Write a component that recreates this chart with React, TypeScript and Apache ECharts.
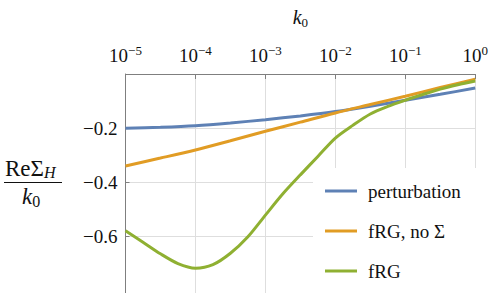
import { useEffect, useRef } from "react";
import * as echarts from "echarts";

const seriesNames = ["perturbation", "fRG, no Σ", "fRG"];
const colors = ["#5E81B5", "#E19C24", "#8FB032"];

const kHalfDecades = [1e-5, 3.162e-5, 1e-4, 3.162e-4, 1e-3, 3.162e-3, 1e-2, 3.162e-2, 0.1, 0.3162, 1];
const perturbation = [-0.201, -0.197, -0.191, -0.181, -0.169, -0.155, -0.139, -0.119, -0.097, -0.075, -0.052];
const frgNoSigma = [-0.34, -0.311, -0.281, -0.247, -0.212, -0.178, -0.144, -0.113, -0.082, -0.05, -0.019];

const kQuarterDecades = [
  1e-5, 1.778e-5, 3.162e-5, 5.623e-5, 1e-4, 1.778e-4, 3.162e-4, 5.623e-4, 1e-3, 1.778e-3, 3.162e-3,
  5.623e-3, 1e-2, 1.778e-2, 3.162e-2, 5.623e-2, 0.1, 0.1778, 0.3162, 0.5623, 1,
];
const frg = [
  -0.58, -0.622, -0.665, -0.701, -0.718, -0.705, -0.663, -0.602, -0.522, -0.443, -0.373,
  -0.305, -0.237, -0.19, -0.148, -0.12, -0.097, -0.076, -0.056, -0.04, -0.026,
];

const yTicks = [-0.6, -0.4, -0.2];

const FONT = "Liberation Serif";

function pairs(xs: number[], ys: number[]) {
  return xs.map((x, i) => [x, ys[i]]);
}

export default function App() {
  const ref = useRef<HTMLDivElement>(null);
  useEffect(() => {
    if (!ref.current) return;
    const chart = echarts.init(ref.current, undefined, { renderer: "svg" });
    const mkSeries = (name: string, data: number[][], color: string) => ({
      name,
      type: "line",
      data,
      smooth: 0.3,
      showSymbol: false,
      symbol: "none",
      lineStyle: { color, width: 3 },
      itemStyle: { color },
      z: 3,
    });
    chart.setOption({
      animation: false,
      backgroundColor: "#fff",
      textStyle: { fontFamily: FONT },
      grid: { left: 125.5, right: 15.5, top: 74, bottom: 0, containLabel: false },
      xAxis: {
        type: "log",
        logBase: 10,
        position: "top",
        min: 1e-5,
        max: 1,
        name: "{i|k}{s|0}",
        nameLocation: "middle",
        nameGap: 46,
        nameTextStyle: {
          fontFamily: FONT,
          rich: {
            i: { fontFamily: FONT, fontSize: 20, fontStyle: "italic", color: "#111", lineHeight: 22 },
            s: { fontFamily: FONT, fontSize: 13, color: "#111", lineHeight: 22, padding: [10, 0, 0, 0] },
          },
        },
        axisLine: { show: true, lineStyle: { color: "#7f7f7f", width: 1 } },
        axisTick: { show: true, inside: true, length: 5, lineStyle: { color: "#7f7f7f" } },
        splitLine: { show: true, lineStyle: { color: "#dedede", width: 1 } },
        minorTick: { show: false },
        axisLabel: {
          margin: 8,
          fontFamily: FONT,
          formatter: (v: number) => {
            const e = Math.round(Math.log10(v));
            const s = e < 0 ? "\u2212" + Math.abs(e) : String(e);
            return "{b|10}{s|" + s + "}";
          },
          rich: {
            b: { fontFamily: FONT, fontSize: 19, color: "#111", lineHeight: 22 },
            s: { fontFamily: FONT, fontSize: 13, color: "#111", lineHeight: 22, padding: [0, 0, 9, 0] },
          },
        },
      },
      yAxis: {
        type: "value",
        min: -0.81,
        max: 0,
        axisLine: { show: true, onZero: false, lineStyle: { color: "#7f7f7f", width: 1 } },
        axisTick: { show: true, inside: true, length: 4, lineStyle: { color: "#7f7f7f" }, customValues: yTicks },
        splitLine: { show: true, lineStyle: { color: "#dedede", width: 1 } },
        axisLabel: {
          customValues: yTicks,
          margin: 8,
          fontFamily: FONT,
          fontSize: 19,
          color: "#111",
          formatter: (v: number) => (v < 0 ? "\u2212" : "") + Math.abs(v).toFixed(1),
        },
      },
      legend: {
        orient: "vertical",
        left: 313,
        top: 168,
        padding: [12, 10, 2, 12],
        itemGap: 18,
        itemWidth: 32,
        itemHeight: 3,
        icon: "rect",
        data: seriesNames,
        textStyle: { fontFamily: FONT, fontSize: 19, color: "#111", lineHeight: 22, padding: [0, 0, 0, 6] },
      },
      graphic: [
        {
          type: "rect",
          z: 1,
          shape: { x: 313, y: 168, width: 178, height: 125 },
          style: { fill: "#fff" },
        },
        {
          type: "text",
          left: 5,
          top: 156,
          style: {
            text: "{r|ReΣ}{h|H}",
            rich: {
              r: { fontFamily: FONT, fontSize: 23, fill: "#111", lineHeight: 26 },
              h: { fontFamily: FONT, fontSize: 16, fontStyle: "italic", fill: "#111", lineHeight: 26, padding: [8, 0, 0, 0] },
            },
          },
        },
        {
          type: "line",
          shape: { x1: 4, y1: 182.5, x2: 62, y2: 182.5 },
          style: { stroke: "#111", lineWidth: 1 },
        },
        {
          type: "text",
          left: 22,
          top: 183,
          style: {
            text: "{i|k}{s|0}",
            rich: {
              i: { fontFamily: FONT, fontSize: 23, fontStyle: "italic", fill: "#111", lineHeight: 26 },
              s: { fontFamily: FONT, fontSize: 16, fill: "#111", lineHeight: 26, padding: [10, 0, 0, 0] },
            },
          },
        },
      ],
      series: [
        mkSeries(seriesNames[0], pairs(kHalfDecades, perturbation), colors[0]),
        mkSeries(seriesNames[1], pairs(kHalfDecades, frgNoSigma), colors[1]),
        mkSeries(seriesNames[2], pairs(kQuarterDecades, frg), colors[2]),
      ],
    });
    return () => chart.dispose();
  }, []);
  return <div ref={ref} style={{ width: 491, height: 293, position: "absolute", left: 0, top: 0 }} />;
}
